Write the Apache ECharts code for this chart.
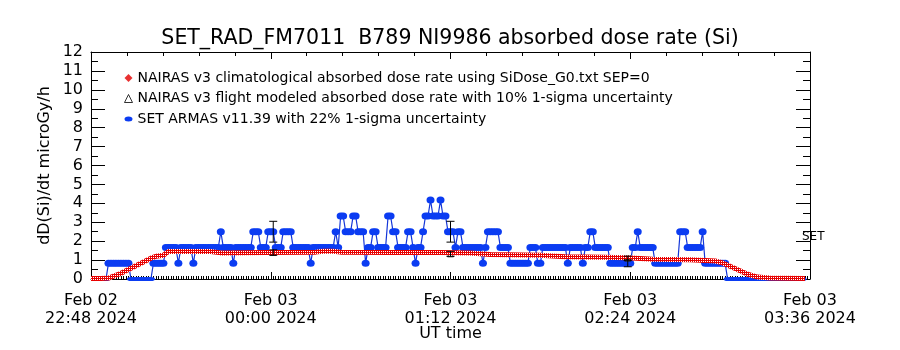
<!DOCTYPE html>
<html><head><meta charset="utf-8">
<script src="https://cdn.jsdelivr.net/npm/echarts@6/dist/echarts.min.js"></script>
<style>html,body{margin:0;padding:0;background:#fff}#c{width:900px;height:350px}</style>
</head><body><div id="c"></div>
<script>
// ---------- data ----------
const chartTitle = 'SET_RAD_FM7011  B789 NI9986 absorbed dose rate (Si)';
const xAxisName = 'UT time';
const yAxisName = 'dD(Si)/dt microGy/h';
const xTickMinutes = [0, 72, 144, 216, 288]; // minutes after 2024-02-02 22:48 UT
const xTickLabels = ['Feb 02\n22:48 2024', 'Feb 03\n00:00 2024', 'Feb 03\n01:12 2024', 'Feb 03\n02:24 2024', 'Feb 03\n03:36 2024'];
const seriesNames = [
  'NAIRAS v3 climatological absorbed dose rate using SiDose_G0.txt SEP=0',
  'NAIRAS v3 flight modeled absorbed dose rate with 10% 1-sigma uncertainty',
  'SET ARMAS v11.39 with 22% 1-sigma uncertainty'
];
const sideNote = 'SET';

// NAIRAS climatological dose rate (minutes, microGy/h)
const climTimes = [0, 4, 7, 12, 18, 24, 26, 29, 31, 48, 52, 70, 90, 93, 97, 100, 120, 140, 152, 160, 180, 190, 205, 215, 225, 240, 250, 253, 258, 263, 267, 272, 286];
const climDose  = [0.03, 0.03, 0.05, 0.3, 0.7, 1.1, 1.2, 1.25, 1.45, 1.45, 1.38, 1.4, 1.42, 1.47, 1.47, 1.42, 1.4, 1.4, 1.38, 1.3, 1.26, 1.18, 1.15, 1.12, 1.05, 1.02, 0.95, 0.85, 0.55, 0.25, 0.1, 0.05, 0.03];

// NAIRAS flight modeled points
const flightTimes = [73, 144, 215];
const flightDose  = [1.4, 1.33, 1.1];
const flightSigma = 0.10;

// SET ARMAS measured dose rate, one sample per minute starting at minute 6
const armasStartMin = 6;
const armasSigma = 0.22;
const armasDose = [
  0,                                                        // 6
  0.83,0.83,0.83,0.83,0.83,0.83,0.83,0.83,0.83,             // 7-15
  0,0,0,0,0,0,0,0,0,                                        // 16-24
  0.83,0.83,0.83,0.83,0.83,                                 // 25-29
  1.67,1.67,1.67,1.67,1.67,                                 // 30-34
  0.83,                                                     // 35
  1.67,1.67,1.67,1.67,1.67,                                 // 36-40
  0.83,                                                     // 41
  1.67,1.67,1.67,1.67,1.67,1.67,1.67,1.67,1.67,1.67,        // 42-51
  2.5,                                                      // 52
  1.67,1.67,1.67,1.67,                                      // 53-56
  0.83,                                                     // 57
  1.67,1.67,1.67,1.67,1.67,1.67,1.67,                       // 58-64
  2.5,2.5,2.5,                                              // 65-67
  1.67,1.67,1.67,                                           // 68-70
  2.5,2.5,2.5,                                              // 71-73
  1.67,1.67,1.67,                                           // 74-76
  2.5,2.5,2.5,2.5,                                          // 77-80
  1.67,1.67,1.67,1.67,1.67,1.67,1.67,                       // 81-87
  0.83,                                                     // 88
  1.67,1.67,1.67,1.67,1.67,1.67,1.67,1.67,1.67,             // 89-97
  2.5,                                                      // 98
  1.67,                                                     // 99
  3.33,3.33,                                                // 100-101
  2.5,2.5,2.5,                                              // 102-104
  3.33,3.33,                                                // 105-106
  2.5,2.5,2.5,                                              // 107-109
  0.83,                                                     // 110
  1.67,1.67,                                                // 111-112
  2.5,2.5,                                                  // 113-114
  1.67,1.67,1.67,1.67,                                      // 115-118
  3.33,3.33,                                                // 119-120
  2.5,2.5,                                                  // 121-122
  1.67,1.67,1.67,1.67,                                      // 123-126
  2.5,2.5,                                                  // 127-128
  1.67,                                                     // 129
  0.83,                                                     // 130
  1.67,1.67,                                                // 131-132
  2.5,                                                      // 133
  3.33,3.33,                                                // 134-135
  4.17,                                                     // 136
  3.33,3.33,3.33,                                           // 137-139
  4.17,                                                     // 140
  3.33,3.33,                                                // 141-142
  2.5,2.5,2.5,                                              // 143-145
  1.67,                                                     // 146
  2.5,2.5,                                                  // 147-148
  1.67,1.67,1.67,1.67,1.67,1.67,1.67,1.67,                  // 149-156
  0.83,                                                     // 157
  1.67,                                                     // 158
  2.5,2.5,2.5,2.5,2.5,                                      // 159-163
  1.67,1.67,1.67,1.67,                                      // 164-167
  0.83,0.83,0.83,0.83,0.83,0.83,0.83,0.83,                  // 168-175
  1.67,1.67,1.67,                                           // 176-178
  0.83,0.83,                                                // 179-180
  1.67,1.67,1.67,1.67,1.67,1.67,1.67,1.67,1.67,1.67,        // 181-190
  0.83,                                                     // 191
  1.67,1.67,1.67,1.67,1.67,                                 // 192-196
  0.83,                                                     // 197
  1.67,1.67,                                                // 198-199
  2.5,2.5,                                                  // 200-201
  1.67,1.67,1.67,1.67,1.67,1.67,                            // 202-207
  0.83,0.83,0.83,0.83,0.83,0.83,0.83,0.83,0.83,             // 208-216
  1.67,1.67,                                                // 217-218
  2.5,                                                      // 219
  1.67,1.67,1.67,1.67,1.67,1.67,                            // 220-225
  0.83,0.83,0.83,0.83,0.83,0.83,0.83,0.83,0.83,0.83,        // 226-235
  2.5,2.5,2.5,                                              // 236-238
  1.67,1.67,1.67,1.67,1.67,1.67,                            // 239-244
  2.5,                                                      // 245
  0.83,0.83,0.83,0.83,0.83,0.83,0.83,0.83,0.83,             // 246-254
  0,0,0,0,0,0,0,0,0,0,0,0,0,0,0,0,0,0,0,0,0,0,0,0,0,0,0,0,0,0,0 // 255-285
];

// ---------- build ----------
const FONT = 'DejaVu Sans';
const armasData = armasDose.map((v, i) => [armasStartMin + i, v]);
const climData = climTimes.map((t, i) => [t, climDose[i]]);
const flightData = flightTimes.map((t, i) => [t, flightDose[i]]);
const errData = [];
flightTimes.forEach((t, i) => {
  errData.push([t, flightDose[i] * (1 - flightSigma), flightDose[i] * (1 + flightSigma)]);
  const a = armasData.find(d => d[0] === t);
  if (a) errData.push([t, a[1] * (1 - armasSigma), a[1] * (1 + armasSigma)]);
});

function checker(c1, c2) {
  const cv = document.createElement('canvas');
  cv.width = 2; cv.height = 2;
  const g = cv.getContext('2d');
  g.fillStyle = c1; g.fillRect(0, 0, 2, 2);
  g.fillStyle = c2; g.fillRect(1, 1, 1, 1);
  return cv;
}
const redPattern = { image: checker('#e80000', '#ffffff'), repeat: 'repeat' };

const chart = echarts.init(document.getElementById('c'), null, { renderer: 'canvas' });
const mkLine = () => ({ show: true, onZero: false, lineStyle: { color: '#000', width: 1 } });

chart.setOption({
  animation: false,
  backgroundColor: '#fff',
  title: {
    text: chartTitle, left: 'center', top: 24,
    textStyle: { fontFamily: FONT, fontSize: 20.5, fontWeight: 'normal', color: '#000', lineHeight: 20 }
  },
  grid: { left: 91, right: 90, top: 52, bottom: 71, containLabel: false },
  legend: {
    orient: 'vertical', left: 124, top: 71, padding: 0, itemWidth: 8, itemHeight: 8, itemGap: 6.5,
    selectedMode: false,
    textStyle: { fontFamily: FONT, fontSize: 14, color: '#000', lineHeight: 14 },
    data: [
      { name: seriesNames[0], icon: 'diamond', itemStyle: { color: '#e83030' } },
      { name: seriesNames[1], icon: 'triangle', itemStyle: { color: '#fff', borderColor: '#000', borderWidth: 1 } },
      { name: seriesNames[2], icon: 'path://M0,2.5a4,2.5 0 1,0 8,0a4,2.5 0 1,0 -8,0z', itemStyle: { color: '#0b3cf2' } }
    ]
  },
  xAxis: [{
    type: 'value', position: 'bottom', min: 0, max: 288, interval: 72,
    name: xAxisName, nameLocation: 'middle', nameGap: 47, nameMoveOverlap: false,
    nameTextStyle: { fontFamily: FONT, fontSize: 16, color: '#000' },
    axisLine: mkLine(),
    axisTick: { show: true, inside: true, length: 7, lineStyle: { color: '#000' } },
    minorTick: { show: true, splitNumber: 72, length: 3, lineStyle: { color: '#000' } },
    splitLine: { show: false },
    axisLabel: {
      show: true, margin: 12.5, fontFamily: FONT, fontSize: 16, color: '#000', lineHeight: 18,
      showMinLabel: true, showMaxLabel: true,
      formatter: v => { const k = xTickMinutes.indexOf(v); return k >= 0 ? xTickLabels[k] : ''; }
    }
  }, {
    type: 'value', position: 'top', min: 0, max: 288, interval: 72,
    axisLine: mkLine(),
    axisTick: { show: true, inside: true, length: 7, lineStyle: { color: '#000' } },
    minorTick: { show: true, splitNumber: 5, length: 4, lineStyle: { color: '#000' } },
    splitLine: { show: false }, axisLabel: { show: false }
  }],
  yAxis: [{
    type: 'value', position: 'left', min: 0, max: 12, interval: 1,
    name: yAxisName, nameLocation: 'middle', nameGap: 38, nameRotate: 90, nameMoveOverlap: false,
    nameTextStyle: { fontFamily: FONT, fontSize: 16, color: '#000' },
    axisLine: mkLine(),
    axisTick: { show: true, inside: true, length: 14, lineStyle: { color: '#000' } },
    minorTick: { show: true, splitNumber: 2, length: 7, lineStyle: { color: '#000' } },
    splitLine: { show: false },
    axisLabel: { margin: 8, padding: [4, 0, 0, 0], fontFamily: FONT, fontSize: 16, color: '#000' }
  }, {
    type: 'value', position: 'right', min: 0, max: 12, interval: 1,
    axisLine: mkLine(),
    axisTick: { show: true, inside: true, length: 14, lineStyle: { color: '#000' } },
    minorTick: { show: true, splitNumber: 2, length: 7, lineStyle: { color: '#000' } },
    splitLine: { show: false }, axisLabel: { show: false }
  }],
  graphic: [{
    type: 'text', left: 802, top: 231,
    style: { text: sideNote, font: '12px "DejaVu Sans"', fill: '#000' }
  }],
  series: [
    {
      name: seriesNames[2], type: 'line', data: armasData, z: 3,
      symbol: 'circle', showSymbol: true, showAllSymbol: true,
      symbolSize: v => (v[1] === 0 ? [8, 4] : [8, 7]),
      itemStyle: { color: '#0b3cf2' },
      lineStyle: { color: '#1436d8', width: 1.2 }
    },
    {
      name: seriesNames[1], type: 'scatter', data: flightData, z: 3.5,
      symbol: 'triangle', symbolSize: 6,
      itemStyle: { color: '#fff', borderColor: '#000', borderWidth: 1 }
    },
    {
      name: seriesNames[0], type: 'line', data: climData, z: 4,
      symbol: 'none',
      itemStyle: { color: '#e83030' },
      lineStyle: { color: redPattern, width: 5 }
    },
    {
      name: 'errors', type: 'custom', data: errData, z: 6,
      renderItem: (params, api) => {
        const lo = api.coord([api.value(0), api.value(1)]);
        const hi = api.coord([api.value(0), api.value(2)]);
        const st = { stroke: '#000', lineWidth: 1 };
        return {
          type: 'group', children: [
            { type: 'line', shape: { x1: lo[0], y1: lo[1], x2: hi[0], y2: hi[1] }, style: st },
            { type: 'line', shape: { x1: lo[0] - 4, y1: lo[1], x2: lo[0] + 4, y2: lo[1] }, style: st },
            { type: 'line', shape: { x1: hi[0] - 4, y1: hi[1], x2: hi[0] + 4, y2: hi[1] }, style: st }
          ]
        };
      }
    }
  ]
});
</script></body></html>
